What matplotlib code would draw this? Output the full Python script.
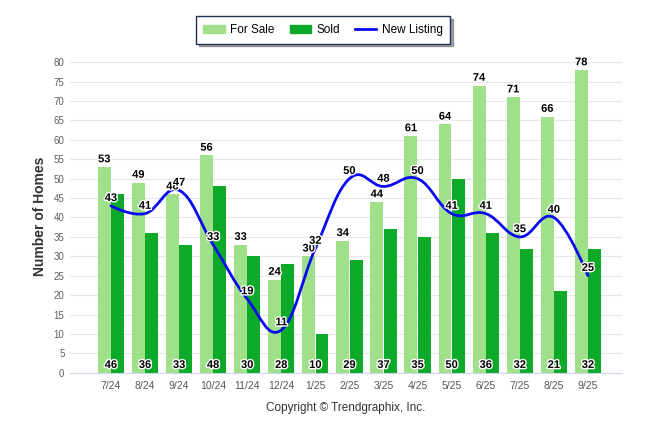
import numpy as np
import matplotlib
matplotlib.use("Agg")
from matplotlib import pyplot as plt
from matplotlib.path import Path
from matplotlib.patches import PathPatch, Patch
from matplotlib.lines import Line2D
import matplotlib.patheffects as pe

plt.rcParams['font.family'] = ['Liberation Sans', 'DejaVu Sans']

# data
months = ["7/24", "8/24", "9/24", "10/24", "11/24", "12/24", "1/25", "2/25",
          "3/25", "4/25", "5/25", "6/25", "7/25", "8/25", "9/25"]
for_sale = [53, 49, 46, 56, 33, 24, 30, 34, 44, 61, 64, 74, 71, 66, 78]
sold = [46, 36, 33, 48, 30, 28, 10, 29, 37, 35, 50, 36, 32, 21, 32]
new_listing = [43, 41, 47, 33, 19, 11, 32, 50, 48, 50, 41, 41, 35, 40, 25]

c_sale = '#a1e08a'
c_sold = '#0caa28'
c_line = '#0a0af0'


def spline_path(xs, ys, smoothing=1.5):
    # bezier path through the points (highcharts-like spline, no capping)
    n = len(xs)
    denom = smoothing + 1
    lc = [(xs[i], ys[i]) for i in range(n)]
    rc = [(xs[i], ys[i]) for i in range(n)]
    for i in range(1, n - 1):
        x, y = xs[i], ys[i]
        lx, ly = xs[i - 1], ys[i - 1]
        nx, ny = xs[i + 1], ys[i + 1]
        lcx = (smoothing * x + lx) / denom
        lcy = (smoothing * y + ly) / denom
        rcx = (smoothing * x + nx) / denom
        rcy = (smoothing * y + ny) / denom
        corr = (rcy - lcy) * (rcx - x) / (rcx - lcx) + y - rcy
        lc[i] = (lcx, lcy + corr)
        rc[i] = (rcx, rcy + corr)
    verts = [(xs[0], ys[0])]
    codes = [Path.MOVETO]
    for i in range(1, n):
        verts += [rc[i - 1], lc[i], (xs[i], ys[i])]
        codes += [Path.CURVE4] * 3
    return Path(verts, codes)


fig = plt.figure(figsize=(6.46, 4.34), dpi=100)
ax = fig.add_axes([0.1084, 0.1412, 0.8545, 0.7198])

x = np.arange(len(months))
w = 0.38
ax.bar(x - 0.195, for_sale, w, color=c_sale, zorder=2)
ax.bar(x + 0.195, sold, w, color=c_sold, zorder=2)

path = spline_path(list(x.astype(float)), [float(v) for v in new_listing])
ax.add_patch(PathPatch(path, facecolor='none', edgecolor=c_line, lw=2.0,
                       zorder=3, capstyle='round', joinstyle='round'))

halo = [pe.withStroke(linewidth=2, foreground='white')]
for i in range(len(months)):
    ax.annotate(str(for_sale[i]), (x[i] - 0.195, for_sale[i]), xytext=(0, 2),
                textcoords='offset points', ha='center', va='bottom',
                fontsize=8, fontweight='bold', color='black',
                path_effects=halo, zorder=5)
    ax.annotate(str(sold[i]), (x[i], 0), xytext=(0, 2),
                textcoords='offset points', ha='center', va='bottom',
                fontsize=8, fontweight='bold', color='black',
                path_effects=halo, zorder=5)
    ax.annotate(str(new_listing[i]), (x[i], new_listing[i]), xytext=(0, 2),
                textcoords='offset points', ha='center', va='bottom',
                fontsize=8, fontweight='bold', color='black',
                path_effects=halo, zorder=5)

ax.set_xlim(-1.2, 15.0)
ax.set_ylim(0, 80.5)
ax.set_yticks(range(0, 81, 5))
ax.set_xticks(x)
ax.set_xticklabels(months)
ax.tick_params(axis='x', length=0, labelsize=7.5, colors='#555555', pad=6)
ax.tick_params(axis='y', length=0, labelsize=7, colors='#606060', pad=4)
ax.grid(axis='y', color='#e6e6e6', lw=0.8, zorder=0)
ax.set_axisbelow(True)
for s in ['top', 'right', 'left']:
    ax.spines[s].set_visible(False)
ax.spines['bottom'].set_color('#ccd6eb')
ax.spines['bottom'].set_linewidth(0.8)

ax.set_ylabel("Number of Homes", fontsize=10, fontweight='bold',
              color='#333333', labelpad=5)
ax.text(0.5, -0.113, "Copyright \u00a9 Trendgraphix, Inc.", transform=ax.transAxes,
        ha='center', va='center', fontsize=8.5, color='#333333')

handles = [Patch(color=c_sale, label='For Sale'),
           Patch(color=c_sold, label='Sold'),
           Line2D([0], [0], color=c_line, lw=2, label='New Listing')]
leg = fig.legend(handles=handles, loc='upper center', bbox_to_anchor=(0.5, 0.976),
                 ncol=3, fontsize=8.5, frameon=True, fancybox=False, shadow=True,
                 edgecolor='#1c2f55', handlelength=1.8, handleheight=0.6,
                 handletextpad=0.45, columnspacing=1.3, borderpad=0.65)
leg.get_frame().set_linewidth(1.0)

fig.savefig("out.png", dpi=100)
